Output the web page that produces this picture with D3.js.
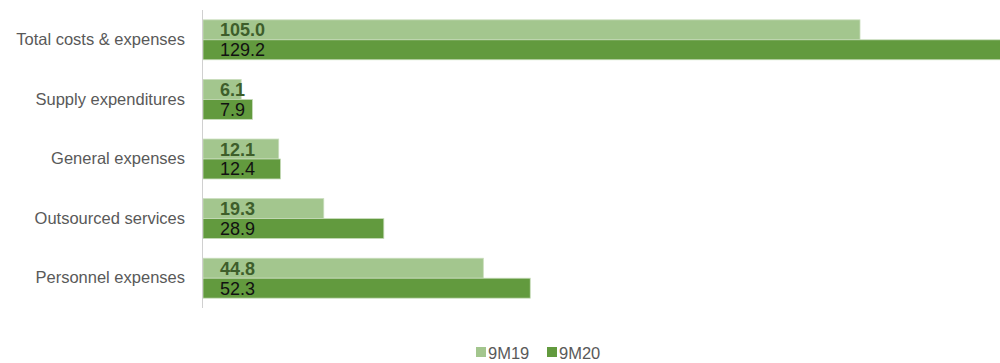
<!DOCTYPE html>
<html><head><meta charset="utf-8">
<script src="https://cdn.jsdelivr.net/npm/d3@7"></script>
<style>body{margin:0;background:#fff}svg{display:block}</style>
</head><body><svg id="c" width="1000" height="363"></svg>
<script>
const categories = ["Total costs & expenses","Supply expenditures","General expenses","Outsourced services","Personnel expenses"];
const series = ["9M19","9M20"];
const values9M19 = [105.0, 6.1, 12.1, 19.3, 44.8];
const values9M20 = [129.2, 7.9, 12.4, 28.9, 52.3];
const colors = ["#a3c68e","#629a3e"];

const svg = d3.select("#c");
const x0 = 203;
const x = d3.scaleLinear().domain([0,105]).range([x0, 860]);
const y = d3.scaleBand().domain(categories).range([10, 308]).paddingInner(0.33).paddingOuter(0.165);
const ys = d3.scaleBand().domain(series).range([0, y.bandwidth()]);
const data = [values9M19, values9M20];

svg.append("defs").append("clipPath").attr("id","clip").append("rect").attr("x",0).attr("y",0).attr("width",1000).attr("height",363);
const g = svg.append("g").attr("clip-path","url(#clip)");

categories.forEach((c,i)=>{
  series.forEach((s,j)=>{
    const v = data[j][i];
    g.append("rect").attr("x", x(0)).attr("y", y(c)+ys(s)).attr("width", x(v)-x(0)).attr("height", ys.bandwidth())
      .attr("fill", colors[j]).attr("stroke","#c9ddbc").attr("stroke-width",0.8);
    g.append("text").attr("x", x(0)+17).attr("y", y(c)+ys(s)+ys.bandwidth()/2+6.5)
      .attr("font-family","Liberation Sans, Arial, sans-serif").attr("font-size",18)
      .attr("font-weight", j===0?"bold":"normal").attr("fill", j===0?"#3e5e2b":"#111")
      .text(v.toFixed(1));
  });
});

svg.append("line").attr("x1",x0-0.5).attr("x2",x0-0.5).attr("y1",10).attr("y2",308).attr("stroke","#d0d0d0").attr("stroke-width",1);

const yAxis = d3.axisLeft(y).tickSize(0).tickPadding(18);
const ax = svg.append("g").attr("transform",`translate(${x0},0)`).call(yAxis);
ax.select(".domain").remove();
ax.selectAll("text").attr("font-family","Liberation Sans, Arial, sans-serif").attr("font-size",16.5).attr("fill","#595959");

const legend = svg.append("g");
const lx = [476, 547];
series.forEach((s,j)=>{
  legend.append("rect").attr("x",lx[j]).attr("y",347).attr("width",10).attr("height",10).attr("fill",colors[j]);
  legend.append("text").attr("x",lx[j]+12).attr("y",359).attr("font-family","Liberation Sans, Arial, sans-serif")
    .attr("font-size",16.5).attr("fill","#595959").text(s);
});
</script></body></html>
